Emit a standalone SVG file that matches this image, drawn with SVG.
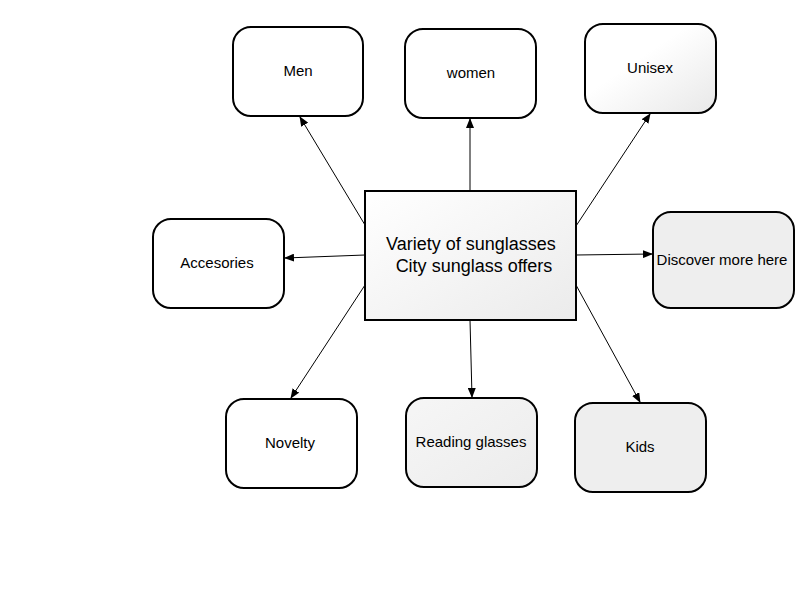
<svg xmlns="http://www.w3.org/2000/svg" width="800" height="600" viewBox="0 0 800 600">
<defs>
<linearGradient id="g1" x1="0" y1="0" x2="1" y2="1">
<stop offset="0" stop-color="#ffffff"/>
<stop offset="1" stop-color="#ebebeb"/>
</linearGradient>
<linearGradient id="g2" x1="0" y1="0" x2="1" y2="1">
<stop offset="0.4" stop-color="#ffffff"/>
<stop offset="1" stop-color="#e8e8e8"/>
</linearGradient>
<linearGradient id="g3" x1="0" y1="0" x2="1" y2="1">
<stop offset="0" stop-color="#f6f6f6"/>
<stop offset="1" stop-color="#ececec"/>
</linearGradient>
<marker id="arr" markerWidth="10" markerHeight="8" refX="9" refY="4" orient="auto" markerUnits="userSpaceOnUse">
<path d="M0,0 L10,4 L0,8 Z" fill="#000"/>
</marker>
</defs>
<style>
.n{stroke:#000;stroke-width:2;fill:#fff}
.t{font-family:"Liberation Sans",Arial,sans-serif;font-size:15px;fill:#000;text-anchor:middle}
.c{stroke:#000;stroke-width:1;fill:none;marker-end:url(#arr)}
</style>
<rect width="800" height="600" fill="#fff"/>
<g id="connectors">
<line class="c" x1="365" y1="225" x2="300" y2="117"/>
<line class="c" x1="470" y1="191" x2="470" y2="119"/>
<line class="c" x1="576" y1="226" x2="650" y2="114"/>
<line class="c" x1="365" y1="255" x2="285" y2="258"/>
<line class="c" x1="576" y1="255" x2="652" y2="254"/>
<line class="c" x1="365" y1="285" x2="291" y2="398"/>
<line class="c" x1="470" y1="320" x2="472" y2="397"/>
<line class="c" x1="576" y1="285" x2="640" y2="402"/>
</g>
<g id="center">
<rect x="365" y="191" width="211" height="129" fill="url(#g1)" stroke="#000" stroke-width="2"/>
<text class="t" style="font-size:18px" x="471" y="250">Variety of sunglasses</text>
<text class="t" style="font-size:18px" x="474" y="272">City sunglass offers</text>
</g>
<g id="men">
<rect class="n" x="233" y="27" width="130" height="89" rx="18"/>
<text class="t" x="298" y="76">Men</text>
</g>
<g id="women">
<rect class="n" x="405" y="29" width="131" height="89" rx="18"/>
<text class="t" x="471" y="78">women</text>
</g>
<g id="unisex">
<rect class="n" x="585" y="24" width="131" height="89" rx="18" style="fill:url(#g2)"/>
<text class="t" x="650" y="73">Unisex</text>
</g>
<g id="accesories">
<rect class="n" x="153" y="219" width="131" height="89" rx="18"/>
<text class="t" x="217" y="268">Accesories</text>
</g>
<g id="discover">
<rect class="n" x="653" y="212" width="141" height="96" rx="18" style="fill:#eeeeee"/>
<text class="t" x="722" y="265">Discover more here</text>
</g>
<g id="novelty">
<rect class="n" x="226" y="399" width="131" height="89" rx="18"/>
<text class="t" x="290" y="448">Novelty</text>
</g>
<g id="reading">
<rect class="n" x="406" y="398" width="131" height="89" rx="18" style="fill:url(#g3)"/>
<text class="t" x="471" y="447">Reading glasses</text>
</g>
<g id="kids">
<rect class="n" x="575" y="403" width="131" height="89" rx="18" style="fill:#eeeeee"/>
<text class="t" x="640" y="452">Kids</text>
</g>
</svg>
